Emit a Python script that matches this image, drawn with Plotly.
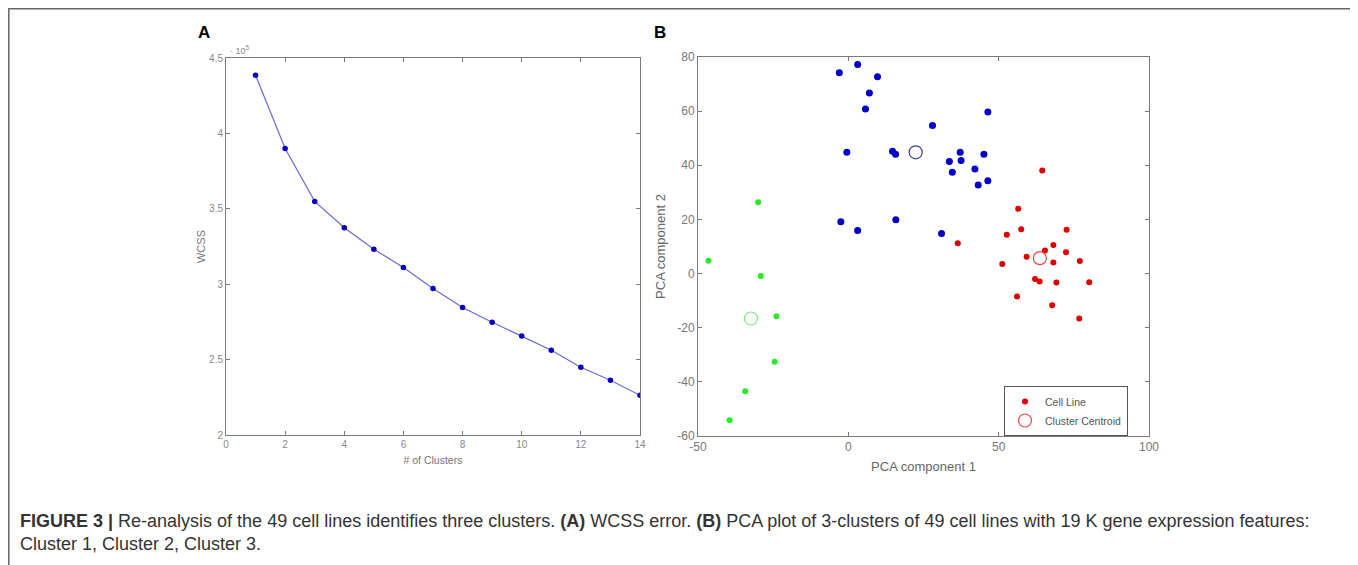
import plotly.graph_objects as go

W, H = 1358, 565
OX, OY = 8, 8  # page body offset of the rendered figure

# ---------------- Data ----------------
n_clusters = [1, 2, 3, 4, 5, 6, 7, 8, 9, 10, 11, 12, 13, 14]
wcss = [438500, 390000, 354900, 337400, 323200, 311100, 297100, 284500,
        274800, 265700, 256200, 244900, 236300, 226300]

blue_x = [-3.0, 3.1, 9.7, 7.0, 5.7, 46.4, 28.0, -0.5, 14.7, 15.7, 33.6,
          37.2, 37.5, 34.6, 42.1, 45.1, 43.2, 46.4, -2.5, 3.1, 15.8, 31.0]
blue_y = [74.2, 77.2, 72.7, 66.7, 60.8, 59.7, 54.7, 44.8, 45.2, 44.1, 41.4,
          44.8, 41.8, 37.4, 38.6, 44.1, 32.7, 34.3, 19.1, 15.9, 19.9, 14.8]

red_x = [64.5, 56.5, 57.5, 52.7, 36.4, 72.6, 68.2, 72.4, 65.4, 59.3, 51.2,
         68.2, 77.0, 62.1, 63.6, 69.2, 80.1, 56.1, 67.8, 76.8]
red_y = [38.1, 23.9, 16.4, 14.3, 11.2, 16.2, 10.6, 7.9, 8.5, 6.2, 3.5,
         4.1, 4.6, -2.0, -2.9, -3.3, -3.2, -8.5, -11.7, -16.6]

green_x = [-30.0, -46.5, -29.1, -23.9, -24.5, -34.3, -39.5]
green_y = [26.3, 4.7, -0.9, -15.8, -32.6, -43.5, -54.2]

centroid_x = [22.4, 63.7, -32.4]
centroid_y = [44.8, 5.7, -16.6]
centroid_colors = ["#3a3a96", "#e8474f", "#7ae87a"]

wcss_ticks = [200000, 250000, 300000, 350000, 400000, 450000]
wcss_ticktext = ["2", "2.5", "3", "3.5", "4", "4.5"]
pc1_ticks = [-50, 0, 50, 100]
pc1_ticktext = ["-50", "0", "50", "100"]
pc2_ticks = [-60, -40, -20, 0, 20, 40, 60, 80]
pc2_ticktext = ["-60", "-40", "-20", "0", "20", "40", "60", "80"]

caption_line1 = ("<b>FIGURE 3 |</b> Re-analysis of the 49 cell lines identifies three clusters. "
                 "<b>(A)</b> WCSS error. <b>(B)</b> PCA plot of 3-clusters of 49 cell lines with "
                 "19 K gene expression features:")
caption_line2 = "Cluster 1, Cluster 2, Cluster 3."

# ---------------- Helpers (screen px -> paper fraction) ----------------
def px(x):
    return (x - OX) / W

def py(y):
    return 1 - (y - OY) / H

fig = go.Figure()

# Panel A
fig.add_trace(go.Scatter(
    x=n_clusters, y=wcss, mode="lines+markers",
    line=dict(color="#6a6ad0", width=1.2),
    marker=dict(color="#0000c0", size=5.5),
    xaxis="x", yaxis="y", showlegend=False))

# Panel B
fig.add_trace(go.Scatter(x=blue_x, y=blue_y, mode="markers",
                         marker=dict(color="#0000c8", size=7),
                         xaxis="x2", yaxis="y2", showlegend=False))
fig.add_trace(go.Scatter(x=green_x, y=green_y, mode="markers",
                         marker=dict(color="#22ee22", size=6),
                         xaxis="x2", yaxis="y2", showlegend=False))
fig.add_trace(go.Scatter(x=red_x, y=red_y, mode="markers", name="Cell Line",
                         marker=dict(color="#dd0000", size=6),
                         xaxis="x2", yaxis="y2", showlegend=True))
for i in range(3):
    fig.add_trace(go.Scatter(
        x=[centroid_x[i]], y=[centroid_y[i]], mode="markers",
        name="Cluster Centroid",
        marker=dict(symbol="circle-open", size=13, color=centroid_colors[i],
                    line=dict(width=1.2)),
        xaxis="x2", yaxis="y2", showlegend=(i == 1)))

axis_common = dict(showline=True, linecolor="#7a7a7a", linewidth=1,
                   mirror="ticks", ticks="inside", ticklen=4,
                   tickcolor="#7a7a7a", showgrid=False, zeroline=False,
                   automargin=False)

fig.update_layout(
    width=W, height=H, autosize=False,
    margin=dict(l=0, r=0, t=0, b=0, pad=0, autoexpand=False),
    paper_bgcolor="white", plot_bgcolor="white",
    font=dict(family="Liberation Sans, Arial, sans-serif", color="#777"),
    xaxis=dict(domain=[px(226), px(640)], range=[0, 14], tickvals=list(range(0, 15, 2)),
               tickfont=dict(size=10, color="#888"),
               title=dict(text="# of Clusters", font=dict(size=10.5, color="#777"), standoff=7),
               anchor="y", **axis_common),
    yaxis=dict(domain=[py(435), py(58)], range=[200000, 450000],
               tickvals=wcss_ticks, ticktext=wcss_ticktext,
               tickfont=dict(size=10, color="#888"),
               title=dict(text="WCSS", font=dict(size=11, color="#777"), standoff=1),
               anchor="x", **axis_common),
    xaxis2=dict(domain=[px(698), px(1149)], range=[-50, 100],
                tickvals=pc1_ticks, ticktext=pc1_ticktext,
                tickfont=dict(size=12, color="#777"),
                title=dict(text="PCA component 1", font=dict(size=13, color="#666"), standoff=8),
                anchor="y2", **axis_common),
    yaxis2=dict(domain=[py(436), py(57)], range=[-60, 80],
                tickvals=pc2_ticks, ticktext=pc2_ticktext,
                tickfont=dict(size=12, color="#777"),
                title=dict(text="PCA component 2", font=dict(size=13, color="#666"), standoff=8),
                anchor="x2", **axis_common),
    legend=dict(x=px(1004), y=py(386), xanchor="left", yanchor="top",
                bordercolor="#555", borderwidth=1, bgcolor="white",
                font=dict(size=10.5, color="#555"), tracegroupgap=0,
                itemwidth=30),
)

# Figure frame (open at the bottom)
fig.add_shape(type="path", xref="paper", yref="paper",
              path=f"M {px(8.8)},{py(580)} L {px(8.8)},{py(8.8)} L {px(1355)},{py(8.8)} L {px(1355)},{py(580)}",
              line=dict(color="#666", width=1.5))

# Panel letters
fig.add_annotation(x=px(204), y=py(32), xref="paper", yref="paper", text="<b>A</b>",
                   xanchor="center", yanchor="middle",
                   showarrow=False, font=dict(size=17, color="black", family="Liberation Sans, Arial"))
fig.add_annotation(x=px(660), y=py(32), xref="paper", yref="paper", text="<b>B</b>",
                   xanchor="center", yanchor="middle",
                   showarrow=False, font=dict(size=17, color="black", family="Liberation Sans, Arial"))
# exponent
fig.add_annotation(x=px(228), y=py(50), xref="paper", yref="paper", text="· 10<sup>5</sup>",
                   xanchor="left", yanchor="middle",
                   showarrow=False, font=dict(size=9, color="#888"))

# Caption
fig.add_annotation(x=px(18), y=py(521), xref="paper", yref="paper", text=caption_line1,
                   xanchor="left", yanchor="middle", showarrow=False,
                   font=dict(size=18, color="#333", family="Liberation Sans, Arial"))
fig.add_annotation(x=px(18), y=py(544), xref="paper", yref="paper", text=caption_line2,
                   xanchor="left", yanchor="middle", showarrow=False,
                   font=dict(size=18, color="#333", family="Liberation Sans, Arial"))

fig.write_html("out.html")
